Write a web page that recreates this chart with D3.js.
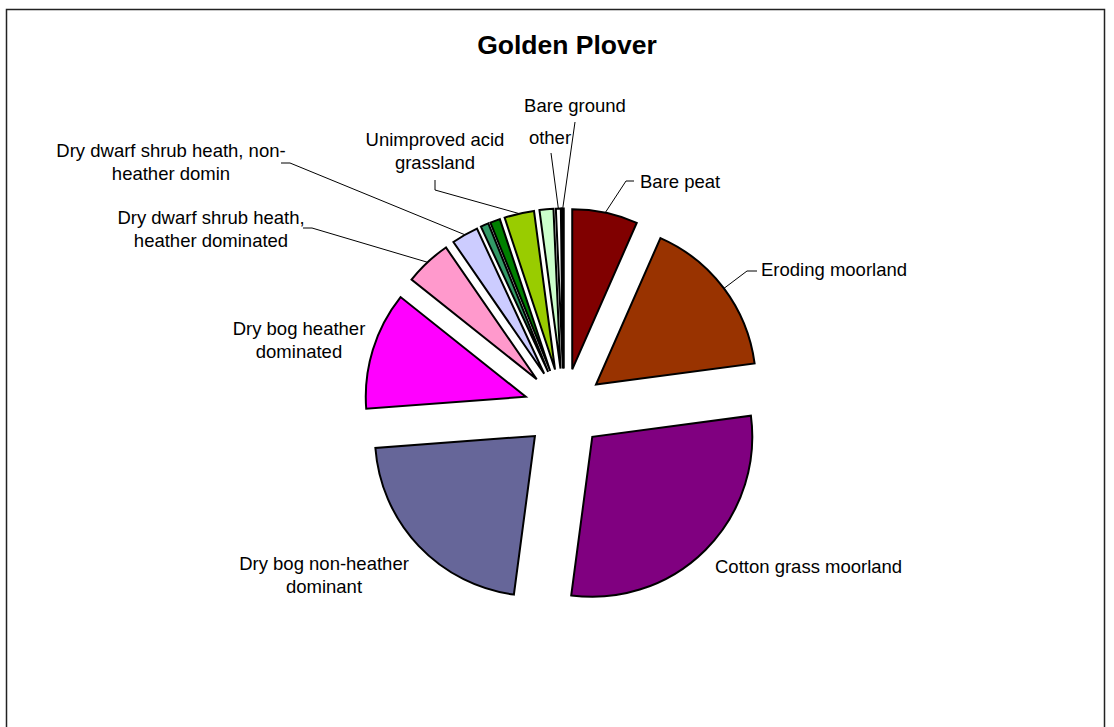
<!DOCTYPE html>
<html>
<head>
<meta charset="utf-8">
<script src="https://cdn.jsdelivr.net/npm/d3@7"></script>
<style>
  html, body { margin: 0; padding: 0; background: #fff; }
  svg { display: block; }
  text { font-family: "Liberation Sans", Arial, sans-serif; fill: #000; }
</style>
</head>
<body>
<svg id="chart" width="1114" height="727"></svg>
<script>
// ---- data ----
const title = "Golden Plover";
const categories = [
  "Bare peat",
  "Eroding moorland",
  "Cotton grass moorland",
  "Dry bog non-heather dominant",
  "Dry bog heather dominated",
  "Dry dwarf shrub heath, heather dominated",
  "Dry dwarf shrub heath, non-heather domin",
  "Unlabelled 1",
  "Unlabelled 2",
  "Unimproved acid grassland",
  "Unlabelled 3",
  "other",
  "Bare ground"
];
const values = [6.6, 16.3, 29.2, 21.7, 11.9, 4.7, 2.7, 0.8, 1.0, 3.0, 1.4, 0.5, 0.2];
const colors = ["#800000", "#993300", "#800080", "#666699", "#FF00FF", "#FF99CC",
                "#CCCCFF", "#339966", "#008000", "#99CC00", "#CCFFCC", "#FFFFFF", "#000000"];
// text shown for each slice (wrapped as in the original); empty = no label
const labelText = [
  ["Bare peat"],
  ["Eroding moorland"],
  ["Cotton grass moorland"],
  ["Dry bog non-heather", "dominant"],
  ["Dry bog heather", "dominated"],
  ["Dry dwarf shrub heath,", "heather dominated"],
  ["Dry dwarf shrub heath, non-", "heather domin"],
  [],
  [],
  ["Unimproved acid", "grassland"],
  [],
  ["other"],
  ["Bare ground"]
];

// ---- layout (positions, not data) ----
const cx = 564, cy = 408.5, radius = 160, explode = 40;
const fontSize = 18.5, lineGap = 23.5;
const labelLayout = [
  {x: 640, y: 181, anchor: "start", leader: [[626, 181], [634, 181]]},
  {x: 761, y: 269, anchor: "start", leader: [[747, 271], [757, 271]]},
  {x: 715, y: 566, anchor: "start", leader: null},
  {x: 324, y: 563, anchor: "middle", leader: null},
  {x: 299, y: 328, anchor: "middle", leader: null},
  {x: 211, y: 217, anchor: "middle", leader: [[312, 228], [303, 228]]},
  {x: 171, y: 150, anchor: "middle", leader: [[290, 163], [281, 163]]},
  null,
  null,
  {x: 435, y: 139, anchor: "middle", leader: [[435, 190], [435, 180]]},
  null,
  {x: 550, y: 137, anchor: "middle", leader: [[551, 153]]},
  {x: 575, y: 105, anchor: "middle", leader: [[575, 122]]}
];

const svg = d3.select("#chart");

// chart border
svg.append("rect")
  .attr("x", 6.5).attr("y", 9.5)
  .attr("width", 1098).attr("height", 740)
  .attr("fill", "none").attr("stroke", "#222").attr("stroke-width", 1.5);

// title
svg.append("text")
  .attr("x", 567).attr("y", 54)
  .attr("text-anchor", "middle")
  .style("font-size", "26.5px").style("font-weight", "bold")
  .text(title);

const data = categories.map((c, i) => ({name: c, value: values[i], color: colors[i], idx: i}));

const pie = d3.pie().value(d => d.value).sort(null).startAngle(0).endAngle(2 * Math.PI);
const arcs = pie(data);
const arcGen = d3.arc().innerRadius(0).outerRadius(radius);

const g = svg.append("g").attr("transform", `translate(${cx},${cy})`);

function offset(a) {
  const mid = (a.startAngle + a.endAngle) / 2;
  return [explode * Math.sin(mid), -explode * Math.cos(mid)];
}

g.selectAll("path.slice")
  .data(arcs)
  .enter().append("path")
  .attr("class", "slice")
  .attr("transform", d => { const o = offset(d); return `translate(${o[0]},${o[1]})`; })
  .attr("d", arcGen)
  .attr("fill", d => d.data.color)
  .attr("stroke", "#000")
  .attr("stroke-width", 2)
  .attr("stroke-linejoin", "miter");

// leader lines and labels
arcs.forEach((a, i) => {
  const lay = labelLayout[i];
  if (!lay || labelText[i].length === 0) return;
  const mid = (a.startAngle + a.endAngle) / 2;
  const rr = explode + radius;
  const start = [cx + rr * Math.sin(mid), cy - rr * Math.cos(mid)];
  if (lay.leader) {
    const pts = [start].concat(lay.leader);
    svg.append("path")
      .attr("d", d3.line()(pts))
      .attr("fill", "none")
      .attr("stroke", "#000")
      .attr("stroke-width", 1);
  }
  const t = svg.append("text")
    .attr("text-anchor", lay.anchor)
    .style("font-size", fontSize + "px");
  labelText[i].forEach((line, k) => {
    t.append("tspan")
      .attr("x", lay.x)
      .attr("y", lay.y + k * lineGap)
      .attr("dominant-baseline", "central")
      .text(line);
  });
});
</script>
</body>
</html>
